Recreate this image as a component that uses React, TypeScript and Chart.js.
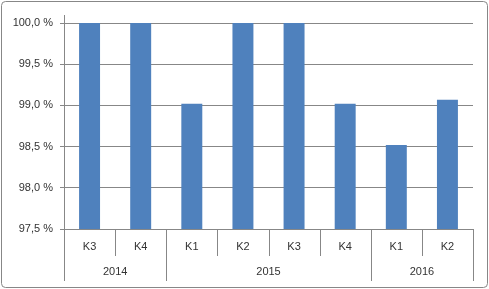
import React, { useEffect, useRef } from "react";
import { Chart, registerables } from "chart.js";

Chart.register(...registerables);

const quarters = ["K3", "K4", "K1", "K2", "K3", "K4", "K1", "K2"];
const years = ["2014", "2015", "2016"];
const yearSpans = [2, 4, 2];
const values = [100.0, 100.0, 99.02, 100.0, 100.0, 99.02, 98.52, 99.07];
const yMin = 97.5;
const yMax = 100.0;
const yStep = 0.5;

const FONT = "'Liberation Sans', Arial, sans-serif";
const LINE = "#878787";
const TEXT = "#333333";

const categoryAxisPlugin = {
  id: "categoryAxis",
  beforeDraw(chart: any) {
    const ctx = chart.ctx;
    ctx.save();
    ctx.fillStyle = "#ffffff";
    ctx.fillRect(0, 0, chart.width, chart.height);
    ctx.strokeStyle = LINE;
    ctx.lineWidth = 1;
    ctx.beginPath();
    (ctx as any).roundRect(1.5, 1.5, chart.width - 3, chart.height - 3, 4);
    ctx.stroke();
    ctx.restore();
  },
  afterDraw(chart: any) {
    const ctx = chart.ctx;
    const area = chart.chartArea;
    const n = quarters.length;
    const w = (area.right - area.left) / n;
    const bottom = area.bottom;
    const rowH = 26;
    const yearBounds = new Set<number>();
    let acc = 0;
    yearBounds.add(0);
    yearSpans.forEach((s) => {
      acc += s;
      yearBounds.add(acc);
    });
    ctx.save();
    ctx.strokeStyle = LINE;
    ctx.lineWidth = 1;
    // y axis line extending slightly above
    ctx.beginPath();
    ctx.moveTo(Math.round(area.left) + 0.5, area.top - 8);
    ctx.lineTo(Math.round(area.left) + 0.5, bottom);
    ctx.stroke();
    for (let k = 0; k <= n; k++) {
      const x = Math.round(area.left + k * w) + 0.5;
      const end = yearBounds.has(k) ? bottom + rowH * 2 : bottom + rowH + 1;
      ctx.beginPath();
      ctx.moveTo(x, bottom);
      ctx.lineTo(x, end);
      ctx.stroke();
    }
    ctx.fillStyle = TEXT;
    ctx.font = `11px ${FONT}`;
    ctx.textAlign = "center";
    ctx.textBaseline = "middle";
    const xs = chart.scales.x;
    quarters.forEach((q, i) => {
      ctx.fillText(q, xs.getPixelForValue(i), bottom + 18);
    });
    let start = 0;
    years.forEach((y, j) => {
      const s = yearSpans[j];
      const cx = (xs.getPixelForValue(start) + xs.getPixelForValue(start + s - 1)) / 2;
      ctx.fillText(y, cx, bottom + 43);
      start += s;
    });
    ctx.restore();
  },
};

export default function App() {
  const ref = useRef<HTMLCanvasElement | null>(null);
  useEffect(() => {
    document.body.style.margin = "0";
    const chart = new Chart(ref.current as HTMLCanvasElement, {
      type: "bar",
      data: {
        labels: quarters,
        datasets: [
          {
            data: values,
            backgroundColor: "#4F81BD",
            borderWidth: 0,
            categoryPercentage: 1,
            barPercentage: 0.41,
          },
        ],
      },
      options: {
        responsive: false,
        animation: false,
        layout: { padding: { left: 0, top: 23, right: 16, bottom: 0 } },
        plugins: { legend: { display: false }, tooltip: { enabled: false } },
        scales: {
          x: {
            ticks: { display: false },
            grid: { display: false },
            border: { display: false },
            afterFit(scale: any) {
              scale.height = 60;
            },
          },
          y: {
            min: yMin,
            max: yMax,
            ticks: {
              stepSize: yStep,
              color: TEXT,
              font: { family: FONT, size: 11 },
              padding: 7,
              callback: (v: any) => Number(v).toFixed(1).replace(".", ",") + " %",
            },
            grid: { color: LINE, tickLength: 4, drawTicks: true },
            border: { display: true, color: LINE },
            afterFit(scale: any) {
              scale.width = 64;
            },
          },
        },
      },
      plugins: [categoryAxisPlugin],
    });
    return () => chart.destroy();
  }, []);
  return (
    <canvas
      ref={ref}
      width={489}
      height={289}
      style={{ display: "block", width: 489, height: 289 }}
    />
  );
}
